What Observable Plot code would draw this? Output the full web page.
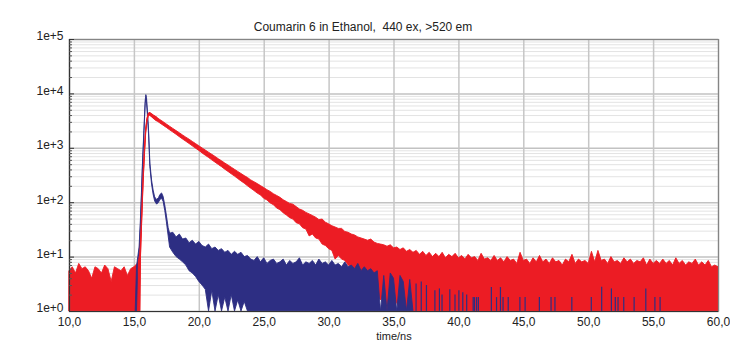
<!DOCTYPE html>
<html>
<head>
<meta charset="utf-8">
<script src="https://cdn.jsdelivr.net/npm/d3@7"></script>
<script src="https://cdn.jsdelivr.net/npm/@observablehq/plot@0.6"></script>
<style>
  html, body { margin: 0; padding: 0; background: #fff; }
</style>
</head>
<body>
<div id="chart"></div>
<script>
const title = "Coumarin 6 in Ethanol,\u00a0 440 ex, >520 em";
const xLabel = "time/ns";
const xTicks = [10, 15, 20, 25, 30, 35, 40, 45, 50, 55, 60];
const xTickLabels = ["10,0", "15,0", "20,0", "25,0", "30,0", "35,0", "40,0", "45,0", "50,0", "55,0", "60,0"];
const yTicks = [1, 10, 100, 1000, 10000, 100000];
const yTickLabels = ["1e+0", "1e+1", "1e+2", "1e+3", "1e+4", "1e+5"];
const yMinor = [2,3,4,5,6,7,8,9, 20,30,40,50,60,70,80,90, 200,300,400,500,600,700,800,900,
  2000,3000,4000,5000,6000,7000,8000,9000, 20000,30000,40000,50000,60000,70000,80000,90000];

// Red: sample decay (time in ns, upper / lower envelope of counts)
const redT = [10,10.25,10.5,10.75,11,11.25,11.5,11.75,12,12.25,12.5,12.75,13,13.25,13.5,13.75,14,14.25,14.5,14.75,15,15.25,
  15.35,15.45,15.5,15.6,15.7,15.8,15.9,16.0,16.1,16.2,
  16.5,16.75,17,17.25,17.5,17.75,18,18.25,18.5,18.75,19,19.25,19.5,19.75,20,20.25,20.5,20.75,21,21.25,21.5,21.75,
  22,22.25,22.5,22.75,23,23.25,23.5,23.75,24,24.25,24.5,24.75,25,25.25,25.5,25.75,26,26.25,26.5,26.75,27,27.25,27.5,27.75,
  28,28.25,28.5,28.75,29,29.25,29.5,29.75,30,30.25,30.5,30.75,31,31.25,31.5,31.75,32,32.25,32.5,32.75,33,33.25,33.5,33.75,
  34,34.25,34.5,34.75,35,35.25,35.5,35.75,36,
  36.25,36.5,36.75,37,37.25,37.5,37.75,38,38.25,38.5,38.75,39,39.25,39.5,39.75,40,40.25,40.5,40.75,41,41.25,41.5,41.75,
  42,42.25,42.5,42.75,43,43.25,43.5,43.75,44,44.25,44.5,44.75,45,45.25,45.5,45.75,46,46.25,46.5,46.75,47,47.25,47.5,47.75,
  48,48.25,48.5,48.75,49,49.25,49.5,49.75,50,50.25,50.5,50.75,51,51.25,51.5,51.75,52,52.25,52.5,52.75,53,53.25,53.5,53.75,
  54,54.25,54.5,54.75,55,55.25,55.5,55.75,56,56.25,56.5,56.75,57,57.25,57.5,57.75,58,58.25,58.5,58.75,59,59.25,59.5,59.75,60];
const redHi = [5.5,6.5,5,7.5,6,6.5,5.5,4,6.5,6,5,7,6,3.5,6.5,6,5.5,6.5,4.5,6,6.5,7.5,
  8,11,16,62,260,820,2100,3350,4250,4450,
  3960,3640,3300,3020,2740,2490,2270,2070,1890,1720,1570,1440,1310,1195,1090,995,910,830,760,695,630,578,
  525,482,440,402,368,337,308,285,257,238,220,202,186,170,158,143,133,123,111,103,95,92,83,75,
  71,65,61,57,53,48,49,43,40,37,35,33,33,29,28,26,25,23,22,21,20,21,18.5,17.5,
  17,16.5,15.5,16.5,14.5,15,13.5,14.5,12.5,
  13.5,12,13,11,12.5,10.5,12,10,11.5,10,12,9.5,11,10,11.5,9.5,10.5,9,11,9.5,10,8.5,11.5,
  9,9.5,8.5,10.5,8.5,9.5,8,10,8.5,9,7.5,12,8.5,9,7.5,9.5,8,10.5,8,9,7.5,9.5,8,8.5,
  7,9,8,11,7.5,9,8,8.5,7.5,12.5,8,13,8.5,9,7.5,10,8,8.5,7.5,9.5,8,9,7.5,8.5,
  8,9.5,7,9,7.5,8.5,7.5,9,7.5,8.5,7,9.5,7.5,8.5,7,8,7.5,9,7,8,7,8.5,6.5,7,6.5];
const redLo = [1,1,1,1,1,1,1,1,1,1,1,1,1,1,1,1,1,1,1,1,1,1,
  1,1,10,50,225,730,1900,3050,3900,4050,
  3510,3150,2860,2600,2370,2140,1950,1770,1600,1450,1320,1200,1085,985,895,805,730,665,600,545,495,450,
  405,368,332,302,272,246,224,200,181,164,147,136,118,110,97,90,78,73,64,58,52,49,42,40,
  34,32,24,26,22,21,17,16,14,13,9,10.5,9,8.5,7,6.5,5.5,5,4,2.8,3,3,2.2,2.4,
  1.6,2,1,1.8,1,1.5,1,1.3,1,
  1,1,1,1,1,1,1,1,1,1,1,1,1,1,1,1,1,1,1,1,1,1,1,
  1,1,1,1,1,1,1,1,1,1,1,1,1,1,1,1,1,1,1,1,1,1,1,1,
  1,1,1,1,1,1,1,1,1,1,1,1,1,1,1,1,1,1,1,1,1,1,1,1,
  1,1,1,1,1,1,1,1,1,1,1,1,1,1,1,1,1,1,1,1,1,1,1,1,1];

// Blue: instrument response (time in ns, upper / lower envelope of counts)
const blueT = [15.1,15.2,15.3,15.4,15.5,15.58,15.66,15.77,15.87,15.92,15.97,16.02,16.13,16.23,16.36,16.48,16.6,16.75,16.9,17.0,17.13,17.25,17.38,17.5,17.64,17.75,
  18,18.25,18.5,18.75,19,19.25,19.5,19.75,20,20.25,20.5,20.75,21,21.25,21.5,21.75,22,22.25,22.5,22.75,23,23.25,23.5,23.75,
  24,24.25,24.5,24.75,25,25.25,25.5,25.75,26,26.25,26.5,26.75,27,27.25,27.5,27.75,28,28.25,28.5,28.75,29,29.25,29.5,29.75,
  30,30.25,30.5,30.75,31,31.25,31.5,31.75,32,32.25,32.5,32.75,33,33.25,33.5,33.75,34,34.25,34.5,34.75,35,35.25,35.5,35.75,36,36.25,36.5];
const blueHi = [1,6.5,10,15,47,150,525,2100,7500,9500,8500,5600,2100,525,256,167,125,112,122,138,148,128,88,58,34,27,
  28,23,26,21,22,18,20,17,19,16,15,17,14,15,13,14,12,13,11,12.5,11,12,10,10.5,
  9,8.5,10,8,9.5,7.5,8.5,9,7.5,8,9,7,8.5,7.5,8,9.5,7,8,7.5,8.5,7,9,7.5,8,
  7,8.5,7,7.5,6.5,8,6.5,7,6,7.5,5.5,6.5,5.5,6,5,5.5,1,4.5,1,5,4,1,4.5,3.5,1,3.8,1];
const blueLo = [1,1,6,11,35,120,450,1850,6500,8000,7000,4800,1800,450,215,140,105,92,100,112,118,104,70,44,24,15,
  12,10,9,8,7,5.5,5,4.3,3.5,3,2.5,1,2.4,1,2,1,1.8,1,2,1,1.6,1,1.5,1,
  1,1,1,1,1,1,1,1,1,1,1,1,1,1,1,1,1,1,1,1,1,1,1,1,
  1,1,1,1,1,1,1,1,1,1,1,1,1,1,1,1,1,1,1,1,1,1,1,1,1,1,1];

// Blue: isolated late counts (time in ns, counts)
const spikeT = [36.7,37.1,37.5,38.15,38.5,38.7,39.3,39.7,40.0,40.3,40.6,41.1,41.2,41.36,41.5,42.5,42.9,43.2,43.4,43.8,44.7,45.1,46.2,47.1,47.4,48.7,50.2,51.0,51.75,52.05,52.26,52.7,53.5,54.4,55.1,55.5];
const spikeC = [3.2,3.5,3.0,2.4,2.6,2.0,2.5,2.0,2.4,2.2,2.0,1.8,1.8,1.8,1.8,2.75,1.8,2.75,1.8,1.8,1.8,1.8,1.8,1.8,1.8,1.8,1.8,2.8,2.6,1.8,1.8,1.8,1.8,2.6,1.8,1.8];

const RED = "#ec1c24";
const BLUE = "#2d2e83";

const red = redT.map((t, i) => ({t, hi: redHi[i], lo: redLo[i]}));
const redPeak = red.filter(d => d.t >= 15.3 && d.t <= 16.75);
const blue = blueT.map((t, i) => ({t, hi: blueHi[i], lo: blueLo[i]}));
const spikes = spikeT.map((t, i) => ({t, c: spikeC[i]}));

const W = 730, H = 349, mL = 69, mR = 12, mT = 39, mB = 38;
const frameW = W - mL - mR;

const chart = Plot.plot({
  width: W, height: H,
  marginLeft: mL, marginRight: mR, marginTop: mT, marginBottom: mB,
  x: {domain: [10, 60], axis: null},
  y: {type: "log", domain: [1, 1e5], axis: null},
  style: {fontFamily: "'Liberation Sans', Arial, sans-serif", background: "#fff", overflow: "visible"},
  marks: [
    Plot.ruleY(yMinor, {stroke: "#e3e3e3", strokeWidth: 1}),
    Plot.ruleY(yTicks, {stroke: "#c2c2c2", strokeWidth: 1.5}),
    Plot.ruleX(xTicks, {stroke: "#c6c6c6", strokeWidth: 1.5}),
    Plot.areaY(red, {x: "t", y1: "lo", y2: "hi", fill: RED, stroke: RED, strokeWidth: 0.9}),
    Plot.areaY(blue, {x: "t", y1: "lo", y2: "hi", fill: BLUE, stroke: BLUE, strokeWidth: 0.9}),
    Plot.ruleX(spikes, {x: "t", y1: 1, y2: "c", stroke: BLUE, strokeWidth: 1.2}),
    Plot.areaY(redPeak, {x: "t", y1: "lo", y2: "hi", fill: RED, stroke: RED, strokeWidth: 1.2}),
    Plot.frame({stroke: "#858585", strokeWidth: 1.2}),
    Plot.ruleX([10], {stroke: "#333", strokeWidth: 1.2}),
    Plot.ruleY([1], {stroke: "#333", strokeWidth: 1.2}),
    Plot.tickY(yTicks, {y: d => d, stroke: "#333", insetRight: frameW - 5}),
    Plot.tickY(yMinor, {y: d => d, stroke: "#555", insetRight: frameW - 3}),
    Plot.text(yTicks, {y: d => d, text: (d, i) => yTickLabels[i], frameAnchor: "left", textAnchor: "end", dx: -6, dy: -3, fontSize: 12, fill: "#222"}),
    Plot.text(xTicks, {x: d => d, text: (d, i) => xTickLabels[i], frameAnchor: "bottom", dy: 14, fontSize: 12, fill: "#222"}),
    Plot.text([xLabel], {frameAnchor: "bottom", dy: 28, fontSize: 11, fill: "#222"}),
    Plot.text([title], {frameAnchor: "top", dy: -17, dx: -31, fontSize: 12, fill: "#222"})
  ]
});
document.getElementById("chart").appendChild(chart);
</script>
</body>
</html>
